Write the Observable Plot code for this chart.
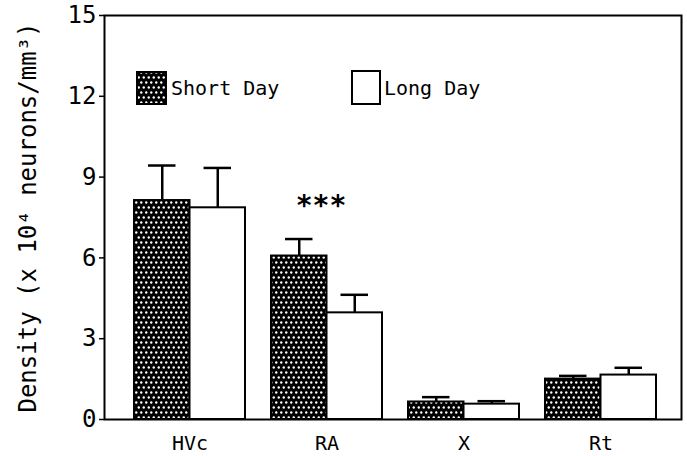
<!DOCTYPE html>
<html>
<head>
<meta charset="utf-8">
<script src="https://cdn.jsdelivr.net/npm/d3@7"></script>
<script src="https://cdn.jsdelivr.net/npm/@observablehq/plot@0.6"></script>
<style>
  html, body { margin: 0; padding: 0; background: white; }
</style>
</head>
<body>
<div id="chart"></div>
<script>
// ---- data ----
const groups = ["HVc", "RA", "X", "Rt"];
const series = ["Short Day", "Long Day"];
const shortMean = [8.13, 6.07, 0.65, 1.50];
const shortErr  = [9.43, 6.70, 0.83, 1.62];
const longMean  = [7.86, 3.96, 0.57, 1.65];
const longErr   = [9.34, 4.63, 0.68, 1.92];
const yTicks = [0, 3, 6, 9, 12, 15];
const yLabel = "Density (x 10\u2074 neurons/mm\u00B3)";
const annotations = [{group: "RA", y: 8.07, label: "***"}];

// ---- layout ----
const W = 687, H = 456;
const mL = 104, mR = 6, mT = 15, mB = 37;
const padIn = 0.19, padOut = 0.2, align = 0.55;
const bw = d3.scaleBand().domain(groups).range([mL, W - mR])
  .paddingInner(padIn).paddingOuter(padOut).align(align).bandwidth();
const half = bw / 2;

const shortRows = groups.map((g, i) => ({group: g, mean: shortMean[i], top: shortErr[i]}));
const longRows  = groups.map((g, i) => ({group: g, mean: longMean[i], top: longErr[i]}));

const capInset = 14;
const FONT = "'DejaVu Sans Mono', monospace";

const chart = Plot.plot({
  width: W, height: H,
  marginLeft: mL, marginRight: mR, marginTop: mT, marginBottom: mB,
  style: {fontFamily: FONT, fontSize: "20px", color: "black", background: "white"},
  x: {domain: groups, paddingInner: padIn, paddingOuter: padOut, align: align, axis: null},
  y: {domain: [0, 15], axis: null},
  marks: [
    Plot.barY(shortRows, {x: "group", y: "mean", fill: "url(#dots)", stroke: "black", strokeWidth: 2, insetRight: half}),
    Plot.barY(longRows, {x: "group", y: "mean", fill: "white", stroke: "black", strokeWidth: 2, insetLeft: half}),
    Plot.ruleX(shortRows, {x: "group", y1: "mean", y2: "top", dx: -half / 2, stroke: "black", strokeWidth: 2.5}),
    Plot.ruleX(longRows, {x: "group", y1: "mean", y2: "top", dx: half / 2, stroke: "black", strokeWidth: 2.5}),
    Plot.tickY(shortRows, {x: "group", y: "top", insetLeft: capInset, insetRight: half + capInset, stroke: "black", strokeWidth: 2.5}),
    Plot.tickY(longRows, {x: "group", y: "top", insetLeft: half + capInset, insetRight: capInset, stroke: "black", strokeWidth: 2.5}),
    Plot.text(annotations, {x: "group", y: "y", text: "label", dx: -6, dy: 4, fontSize: 28, fontWeight: "bold",
      letterSpacing: "-4px", fill: "black"}),
    Plot.frame({stroke: "black", strokeWidth: 2}),
    Plot.axisY({ticks: yTicks, tickSize: 5, tickPadding: 3, fontSize: 24, strokeWidth: 1.5,
      label: yLabel, labelAnchor: "center", labelOffset: 86, labelArrow: "none"}),
    Plot.axisX({tickSize: 0, tickPadding: 16, fontSize: 20, label: null})
  ]
});

const svg = d3.select(chart);
// dotted pattern for Short Day
const defs = svg.insert("defs", ":first-child");
const pat = defs.append("pattern").attr("id", "dots")
  .attr("patternUnits", "userSpaceOnUse").attr("width", 5).attr("height", 10);
pat.append("rect").attr("width", 5).attr("height", 10).attr("fill", "black");
pat.append("circle").attr("cx", 1.25).attr("cy", 2.5).attr("r", 1.2).attr("fill", "white");
pat.append("circle").attr("cx", 3.75).attr("cy", 7.5).attr("r", 1.2).attr("fill", "white");

// legend inside plot area
const legend = svg.append("g").attr("font-family", FONT).attr("font-size", 20).attr("text-anchor", "start");
const legendItems = [
  {label: series[0], fill: "url(#dots)", x: 137, y: 72, w: 29, h: 32, tx: 171},
  {label: series[1], fill: "white", x: 352, y: 71, w: 28, h: 33, tx: 384}
];
legendItems.forEach(d => {
  legend.append("rect").attr("x", d.x).attr("y", d.y).attr("width", d.w).attr("height", d.h)
    .attr("fill", d.fill).attr("stroke", "black").attr("stroke-width", 2);
  legend.append("text").attr("x", d.tx).attr("y", d.y + d.h / 2).attr("dy", "0.35em")
    .attr("text-anchor", "start").attr("fill", "black").text(d.label);
});

document.getElementById("chart").appendChild(chart);
</script>
</body>
</html>
